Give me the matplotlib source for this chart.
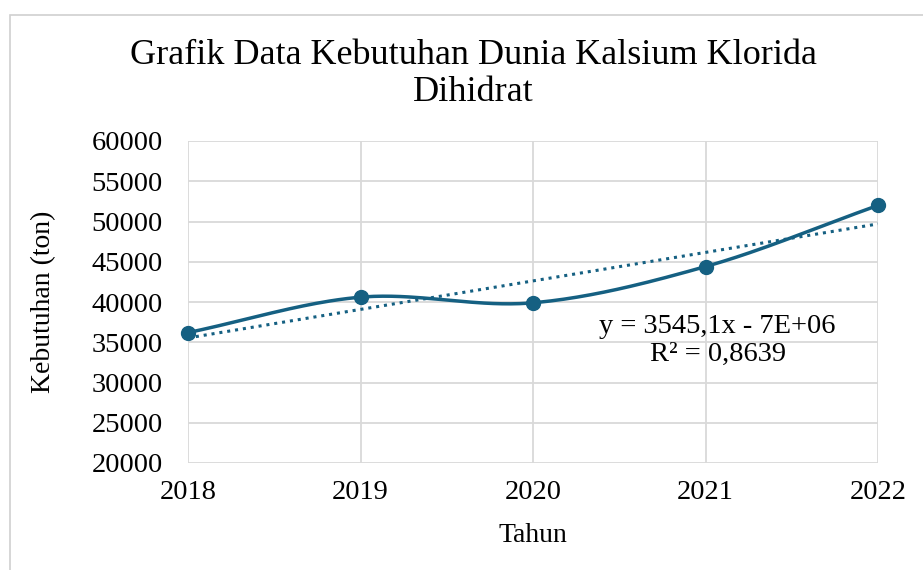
import numpy as np
import matplotlib
matplotlib.use("Agg")
import matplotlib.pyplot as plt
from matplotlib.patches import Rectangle

years = [2018, 2019, 2020, 2021, 2022]
demand = [36200, 40600, 39900, 44400, 52000]
y_ticks = [20000, 25000, 30000, 35000, 40000, 45000, 50000, 55000, 60000]
title = "Grafik Data Kebutuhan Dunia Kalsium Klorida\nDihidrat"
eq_text = "y = 3545,1x - 7E+06\nR² = 0,8639"

line_color = "#156082"
grid_color = "#d9d9d9"

plt.rcParams["font.family"] = ["Liberation Serif", "DejaVu Serif"]


def smooth_curve(x, y, steps=40):
    # catmull-rom through the points, roughly what excel's smoothed line does
    x = np.asarray(x, float)
    y = np.asarray(y, float)
    px = np.concatenate([[2 * x[0] - x[1]], x, [2 * x[-1] - x[-2]]])
    py = np.concatenate([[2 * y[0] - y[1]], y, [2 * y[-1] - y[-2]]])
    xs, ys = [], []
    t = np.linspace(0, 1, steps)
    for i in range(1, len(px) - 2):
        for p, out in ((px, xs), (py, ys)):
            p0, p1, p2, p3 = p[i - 1], p[i], p[i + 1], p[i + 2]
            out.extend(0.5 * ((2 * p1) + (-p0 + p2) * t
                              + (2 * p0 - 5 * p1 + 4 * p2 - p3) * t ** 2
                              + (-p0 + 3 * p1 - 3 * p2 + p3) * t ** 3))
    return xs, ys


fig = plt.figure(figsize=(9.23, 5.70), dpi=100)
ax = fig.add_axes([188 / 923, 1 - 463 / 570, 690 / 923, 322 / 570])

fig.patches.append(Rectangle((10 / 923, -0.1), 2, 1 - 15 / 570 + 0.1,
                             transform=fig.transFigure, fill=False,
                             edgecolor="#d0d0d0", linewidth=1.2, zorder=0))

slope, intercept = np.polyfit(years, demand, 1)
trend_x = np.array([years[0], years[-1]])
ax.plot(trend_x, slope * trend_x + intercept, linestyle=(0, (1, 1.6)),
        color=line_color, linewidth=2.2, zorder=3)

sx, sy = smooth_curve(years, demand)
ax.plot(sx, sy, color=line_color, linewidth=2.5, zorder=4, solid_capstyle="round")
ax.plot(years, demand, "o", color=line_color, markersize=10, zorder=5,
        clip_on=False)

ax.set_xlim(years[0], years[-1])
ax.set_ylim(y_ticks[0], y_ticks[-1])
ax.set_xticks(years)
ax.set_yticks(y_ticks)
ax.tick_params(length=0, labelsize=20.5)
ax.tick_params(axis="y", pad=18)
ax.tick_params(axis="x", pad=12)
ax.grid(True, color=grid_color, linewidth=1.3)
ax.set_axisbelow(True)
for s in ax.spines.values():
    s.set_visible(False)

ax.set_xlabel("Tahun", fontsize=20, labelpad=13)
ax.set_ylabel("Kebutuhan (ton)", fontsize=20, labelpad=26)
fig.text(0.5 + 12 / 923, 1 - 74 / 570, title, ha="center", va="center",
         fontsize=26, linespacing=1.15)
ax.text(2021.07, 38500, eq_text, ha="center", va="top", fontsize=20.5,
        linespacing=1.15, zorder=6)

fig.savefig("out.png", dpi=100)
